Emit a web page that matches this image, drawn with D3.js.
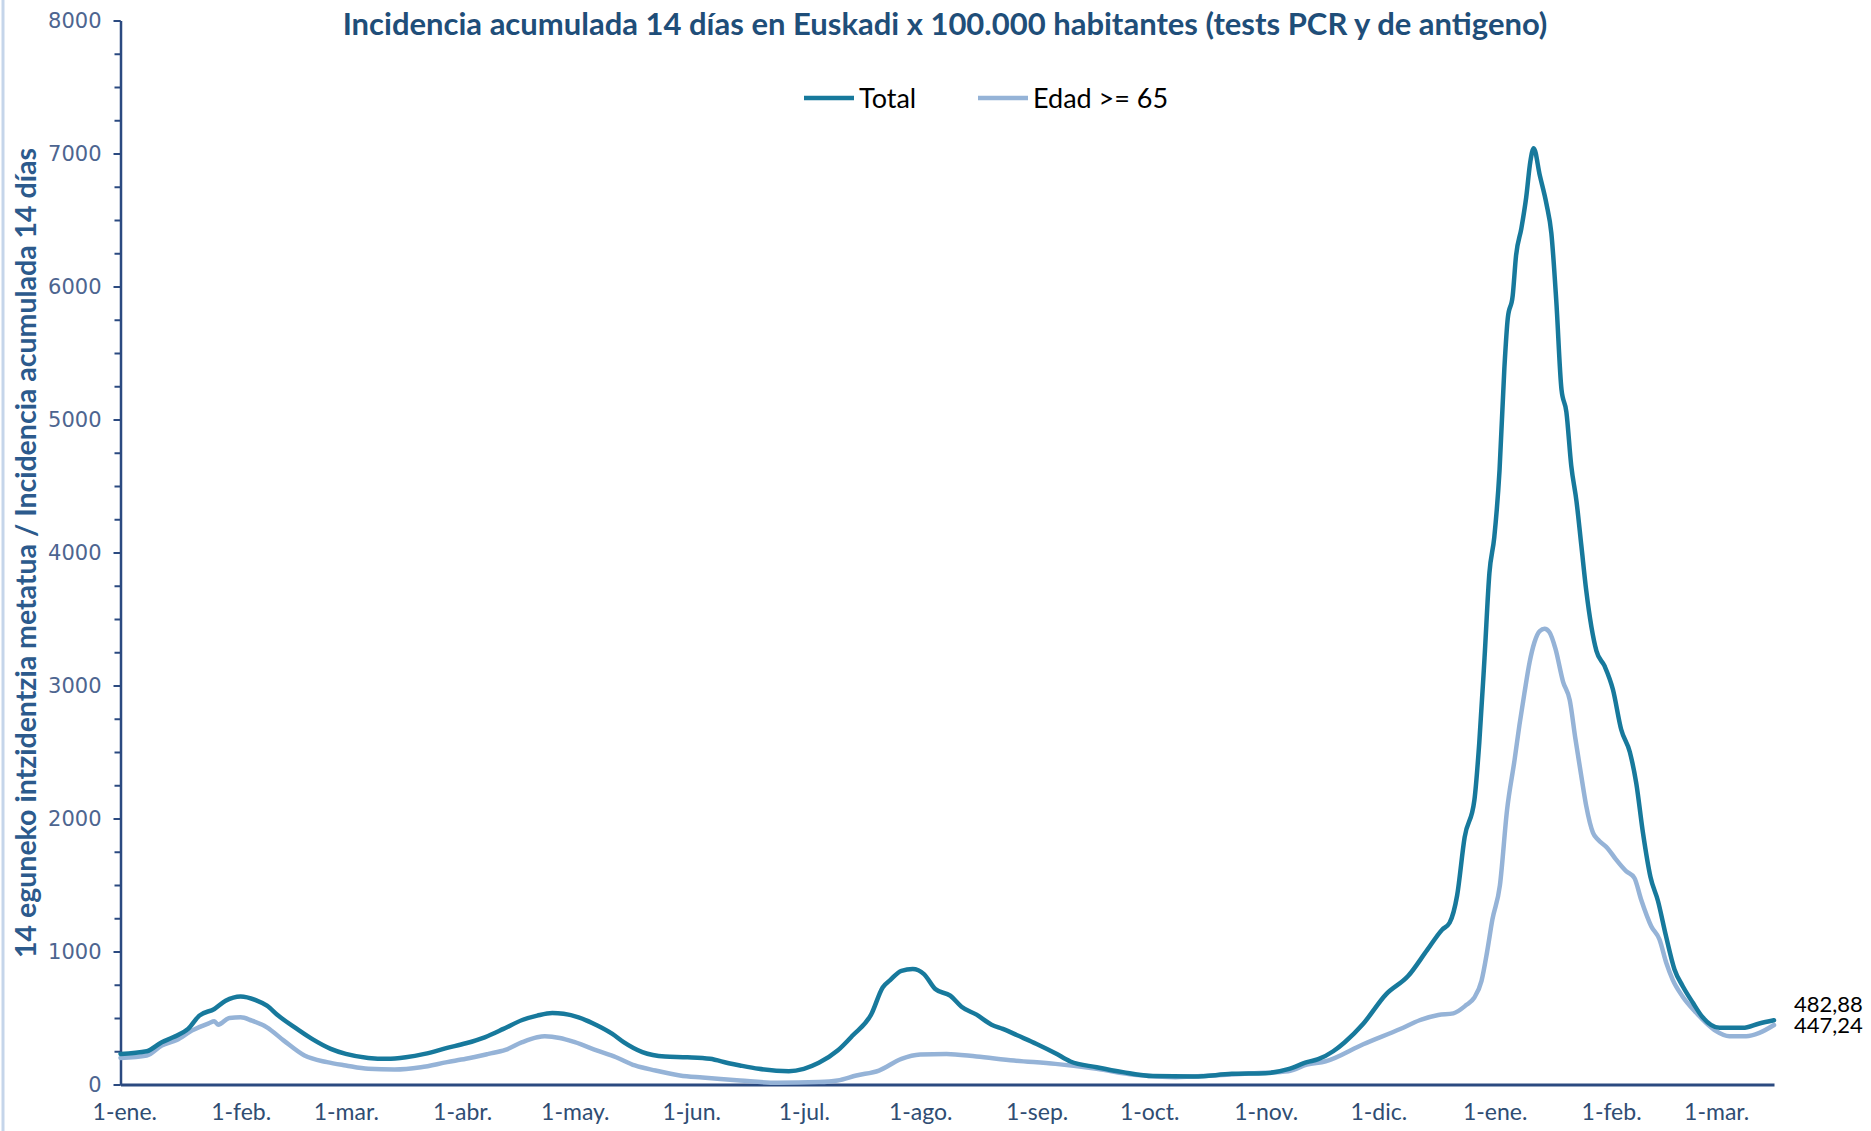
<!DOCTYPE html>
<meta charset="utf-8" />
<style>
  body { margin: 0; background: #fff; }
  svg { display: block; }
  .ytick text { font-family: "DejaVu Sans", sans-serif; font-size: 21px; fill: #4d6590; }
  .xtick text { font-family: Lato, sans-serif; font-size: 23px; fill: #2f4d73; }
</style>
<body>
<script src="https://cdnjs.cloudflare.com/ajax/libs/d3/7.8.5/d3.min.js"></script>
<script>
// dias desde el 31-dic-2020
var totalDias = [0, 7, 11, 14, 18, 21, 25, 28, 32, 36, 39, 42, 47, 51, 56, 60, 66, 71, 76, 81, 87, 92, 97, 102,
  107, 111, 115, 118, 122, 127, 131, 134, 139, 145, 151, 157, 162, 165, 170, 178, 182, 186, 191, 195, 200,
  203, 205, 208, 211, 214, 217, 221, 224, 228, 232, 235, 239, 244, 249, 253, 260, 267, 275, 286, 296, 305,
  311, 316, 319, 323, 326, 331, 337, 343, 348, 352, 354, 356, 358, 360.6, 361.9, 363.3, 364.6, 365.9, 367.3,
  368.6, 369.5, 370.8, 371.7, 373.1, 374.4, 375.5, 376.4, 378, 379.8, 381.1, 382.4, 383.8, 385.1, 386.4,
  387.8, 389.1, 390.4, 393.1, 395.3, 397.5, 399.7, 402, 403.7, 405.5, 407.5, 409.5, 411.6, 413.9, 416.1,
  418.8, 421.4, 425.9, 432.1, 436.5, 440.4];
var totalValores = [230, 250, 318, 355, 418, 518, 568, 630, 662, 635, 593, 518, 418, 343, 268, 230, 200, 193,
  205, 230, 275, 310, 355, 418, 485, 518, 538, 532, 505, 443, 380, 318, 243, 210, 205, 193, 160, 143, 118,
  100, 118, 163, 255, 368, 530, 730, 785, 855, 868, 830, 718, 668, 585, 525, 450, 418, 368, 305, 235, 173,
  130, 93, 63, 60, 80, 85, 115, 168, 190, 250, 316, 457, 676, 817, 1010, 1164, 1216, 1421, 1858, 2138, 2569,
  3207, 3846, 4115, 4620, 5393, 5763, 5930, 6233, 6435, 6670, 6939, 7040, 6838, 6620, 6401, 5897, 5225,
  5057, 4653, 4384, 4048, 3712, 3260, 3145, 2970, 2669, 2500, 2268, 1892, 1560, 1380, 1120, 865, 739, 614,
  505, 426, 426, 459, 482.88];

var edadDias = [0, 7, 11, 15, 19, 23.5, 25, 26, 29, 32, 35, 39, 43.5, 49, 55, 60, 66, 73, 80, 87, 92, 98,
  102.5, 107, 111, 113, 117, 121, 127, 132, 137, 142.5, 149, 155, 165, 175, 186, 191, 196, 202, 208, 213,
  220, 228, 238, 249, 260, 270, 281, 291, 302, 311, 316, 321, 331, 341, 346, 351, 355, 358.5, 360.5, 362.5,
  364, 365.4, 367.4, 369.3, 371.3, 372.6, 373.9, 375.3, 376.6, 378, 379.3, 380.6, 382.2, 384.2, 386, 387.5,
  389.5, 390.4, 392.2, 393.5, 396, 398.3, 401, 403.2, 405, 407.7, 409.9, 411.7, 413.4, 416, 419.7, 422.3,
  425, 428.5, 433, 436.5, 440.4];
var edadValores = [200, 218, 293, 335, 405, 460, 475, 450, 500, 505, 480, 430, 330, 218, 168, 143, 118, 113,
  130, 168, 193, 230, 260, 318, 355, 362, 350, 318, 255, 205, 143, 105, 68, 52, 30, 13, 18, 30, 68, 105, 193,
  225, 230, 210, 180, 155, 118, 73, 55, 68, 85, 100, 150, 175, 303, 419, 483, 522, 535, 599, 650, 779, 1000,
  1241, 1498, 2064, 2440, 2703, 2938, 3174, 3325, 3409, 3426, 3400, 3275, 3030, 2890, 2600, 2243, 2093,
  1892, 1842, 1779, 1692, 1604, 1554, 1391, 1190, 1090, 915, 789, 664, 539, 464, 401, 363, 363, 388, 447.24];

var meses = ["ene.", "feb.", "mar.", "abr.", "may.", "jun.", "jul.", "ago.", "sep.", "oct.", "nov.", "dic."];
var yTicks = [0, 1000, 2000, 3000, 4000, 5000, 6000, 7000, 8000];
var series = [
  { nombre: "Total", dias: totalDias, valores: totalValores, color: "#17799c", etiqueta: "482,88" },
  { nombre: "Edad >= 65", dias: edadDias, valores: edadValores, color: "#95b3d7", etiqueta: "447,24" }
];

var width = 1871, height = 1131;
var inicio = Date.UTC(2020, 11, 31);
function fecha(d) { return new Date(inicio + d * 864e5); }

var svg = d3.select("body").append("svg")
  .attr("width", width).attr("height", height);

// borde azul claro a la izquierda
svg.append("line").attr("x1", 3).attr("x2", 3).attr("y1", 0).attr("y2", height)
  .attr("stroke", "#c5d5ea").attr("stroke-width", 3);

var x = d3.scaleUtc().domain([fecha(0), fecha(440.4)]).range([120.5, 1774]);
var y = d3.scaleLinear().domain([0, 8000]).range([1084.5, 20.5]);

// eje y: marcas menores cada 250
svg.append("g").attr("transform", "translate(120.5,0)")
  .call(d3.axisLeft(y).tickValues(d3.range(0, 8001, 250)).tickSize(6).tickFormat(""))
  .call(g => g.selectAll("line").attr("stroke", "#2b4a80").attr("stroke-width", 2))
  .call(g => g.select(".domain").remove());

var yAxis = svg.append("g").attr("class", "ytick").attr("transform", "translate(120.5,0)")
  .call(d3.axisLeft(y).tickValues(yTicks).tickSize(7).tickSizeOuter(0).tickPadding(12).tickFormat(d3.format("d")));
yAxis.select(".domain").attr("stroke", "#2b4a80").attr("stroke-width", 2.5);
yAxis.selectAll("line").attr("stroke", "#2b4a80").attr("stroke-width", 2);
yAxis.selectAll("text").attr("font-family", null).attr("font-size", null);

// eje x: primero de cada mes
var xTicks = d3.utcMonth.range(Date.UTC(2021, 0, 1), Date.UTC(2022, 2, 2));
var xAxis = svg.append("g").attr("class", "xtick").attr("transform", "translate(0,1084.5)")
  .call(d3.axisBottom(x).tickValues(xTicks).tickSize(0).tickSizeOuter(0).tickPadding(35)
    .tickFormat(d => "1-" + meses[d.getUTCMonth()]));
xAxis.select(".domain").attr("stroke", "#2b4a80").attr("stroke-width", 3);
xAxis.selectAll("text").attr("font-family", null).attr("font-size", null).attr("dy", 0);

// lineas
var line = d3.line()
  .x(d => x(fecha(d[0])))
  .y(d => y(d[1]))
  .curve(d3.curveMonotoneX);

series.slice().reverse().forEach(function(s) {
  var pts = s.dias.map((d, i) => [d, s.valores[i]]);
  svg.append("path").datum(pts)
    .attr("d", line)
    .attr("fill", "none")
    .attr("stroke", s.color)
    .attr("stroke-width", 4.5)
    .attr("stroke-linejoin", "round")
    .attr("stroke-linecap", "round");
});

// etiquetas del ultimo valor
svg.append("text").attr("x", 1794).attr("y", 1012)
  .attr("font-family", "Lato, sans-serif").attr("font-size", 22).attr("fill", "#000")
  .text(series[0].etiqueta);
svg.append("text").attr("x", 1794).attr("y", 1033)
  .attr("font-family", "Lato, sans-serif").attr("font-size", 22).attr("fill", "#000")
  .text(series[1].etiqueta);

// titulo
svg.append("text")
  .attr("x", 945).attr("y", 35)
  .attr("text-anchor", "middle")
  .attr("font-family", "Lato, sans-serif").attr("font-weight", "bold").attr("font-size", 31)
  .attr("fill", "#1f4e79")
  .text("Incidencia acumulada 14 días en Euskadi x 100.000 habitantes (tests PCR y de antigeno)");

// titulo del eje y
svg.append("text")
  .attr("transform", "translate(36,553) rotate(-90)")
  .attr("text-anchor", "middle")
  .attr("font-family", "Lato, sans-serif").attr("font-weight", "bold").attr("font-size", 28.5)
  .attr("fill", "#2c5a8c")
  .text("14 eguneko intzidentzia metatua / Incidencia acumulada 14 días");

// leyenda
var legend = svg.append("g").attr("transform", "translate(0,98)");
var lx = [804, 978];
series.forEach(function(s, i) {
  legend.append("line").attr("x1", lx[i]).attr("x2", lx[i] + 50).attr("y1", 0).attr("y2", 0)
    .attr("stroke", s.color).attr("stroke-width", 4.5);
  legend.append("text").attr("x", lx[i] + 55).attr("y", 10)
    .attr("font-family", "Lato, sans-serif").attr("font-size", 27).attr("fill", "#000")
    .text(s.nombre);
});
</script>
</body>
